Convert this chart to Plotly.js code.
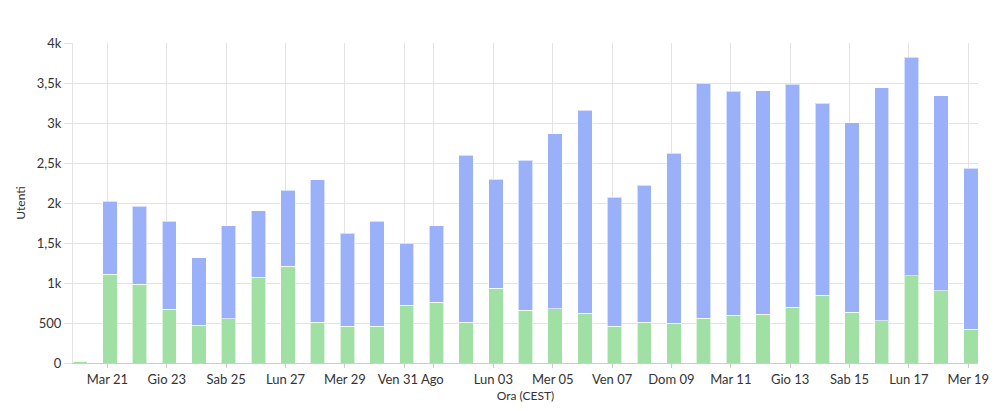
<!DOCTYPE html>
<html>
<head>
<meta charset="utf-8">
<script src="https://cdn.plot.ly/plotly-3.0.1.min.js"></script>
<style>
  html, body { margin: 0; padding: 0; background: #fff; }
  #chart { width: 1006px; height: 411px; }
</style>
</head>
<body>
<div id="chart"></div>
<script>
// giorni (ago-set 2018)
var days = [
  "2018-08-20", "2018-08-21", "2018-08-22", "2018-08-23", "2018-08-24", "2018-08-25",
  "2018-08-26", "2018-08-27", "2018-08-28", "2018-08-29", "2018-08-30", "2018-08-31",
  "2018-09-01", "2018-09-02", "2018-09-03", "2018-09-04", "2018-09-05", "2018-09-06",
  "2018-09-07", "2018-09-08", "2018-09-09", "2018-09-10", "2018-09-11", "2018-09-12",
  "2018-09-13", "2018-09-14", "2018-09-15", "2018-09-16", "2018-09-17", "2018-09-18",
  "2018-09-19"
];

// parte verde (sotto)
var greenUsers = [
  20, 1112, 987, 675, 470, 554, 1075, 1212, 512, 462, 458, 725,
  762, 512, 937, 658, 679, 625, 458, 512, 500, 562, 600, 612,
  700, 846, 637, 529, 1092, 904, 425
];

// parte blu (sopra)
var blueUsers = [
  0, 908, 975, 1095, 846, 1162, 829, 950, 1779, 1158, 1317, 770,
  954, 2083, 1363, 1879, 2187, 2537, 1612, 1713, 2120, 2938, 2800, 2792,
  2783, 2404, 2367, 2912, 2729, 2437, 2012
];

var tickDays = [
  "2018-08-21", "2018-08-23", "2018-08-25", "2018-08-27", "2018-08-29", "2018-08-31",
  "2018-09-01", "2018-09-03", "2018-09-05", "2018-09-07", "2018-09-09", "2018-09-11",
  "2018-09-13", "2018-09-15", "2018-09-17", "2018-09-19"
];
var tickNames = [
  "Mar 21", "Gio 23", "Sab 25", "Lun 27", "Mer 29", "Ven 31 Ago",
  "", "Lun 03", "Mer 05", "Ven 07", "Dom 09", "Mar 11",
  "Gio 13", "Sab 15", "Lun 17", "Mer 19"
];

var yTicks = [0, 500, 1000, 1500, 2000, 2500, 3000, 3500, 4000];
var yNames = ["0", "500", "1k", "1,5k", "2k", "2,5k", "3k", "3,5k", "4k"];

var DAY = 86400000;
var barW = 0.485 * DAY;
var barOff = 2 * 3600000 - barW / 2; // barre spostate di 2h (CEST)

var xStart = Date.parse(days[0]) + barOff;
var xEnd = Date.parse(days[days.length - 1]) + barOff + barW;

// "Ago" un po' spostato a destra come nell'originale
var pad = "\u00a0\u00a0\u00a0\u00a0";
tickNames = tickNames.map(function(t) {
  return t.indexOf("Ago") > -1 ? pad + t : t;
});

var fontFam = "Lato, 'Open Sans', sans-serif";

var traces = [
  {
    type: "bar",
    name: "verde",
    x: days,
    y: greenUsers,
    width: barW,
    offset: barOff,
    marker: { color: "#a1e0a4", line: { color: "rgba(255,255,255,0.6)", width: 1 } },
    hoverinfo: "skip"
  },
  {
    type: "bar",
    name: "blu",
    x: days,
    y: blueUsers,
    width: barW,
    offset: barOff,
    marker: { color: "#9ab1fa", line: { color: "rgba(255,255,255,0.6)", width: 1 } },
    hoverinfo: "skip"
  }
];

var layout = {
  width: 1006,
  height: 411,
  barmode: "stack",
  showlegend: false,
  paper_bgcolor: "#fff",
  plot_bgcolor: "#fff",
  margin: { l: 73, r: 28, t: 43, b: 48 },
  font: { family: fontFam, size: 13, color: "#333" },
  xaxis: {
    type: "date",
    range: [xStart, xEnd],
    tickmode: "array",
    tickvals: tickDays,
    ticktext: tickNames,
    tickangle: 0,
    showgrid: true,
    gridcolor: "#e3e3e3",
    ticks: "outside",
    ticklen: 4,
    tickcolor: "#cccccc",
    showline: true,
    linecolor: "#cccccc",
    zeroline: false,
    tickfont: { size: 13, color: "#333" },
    title: { text: "Ora (CEST)", font: { size: 12, color: "#333" }, standoff: 6 }
  },
  yaxis: {
    range: [0, 4000],
    tickmode: "array",
    tickvals: yTicks,
    ticktext: yNames,
    showgrid: true,
    gridcolor: "#e3e3e3",
    ticks: "outside",
    ticklen: 8,
    tickcolor: "#e3e3e3",
    showline: true,
    linecolor: "#e3e3e3",
    zeroline: false,
    tickfont: { size: 13, color: "#333" },
    title: { text: "Utenti", font: { size: 12, color: "#333" }, standoff: 8 }
  }
};

Plotly.newPlot("chart", traces, layout, { displayModeBar: false, staticPlot: true });
</script>
</body>
</html>
